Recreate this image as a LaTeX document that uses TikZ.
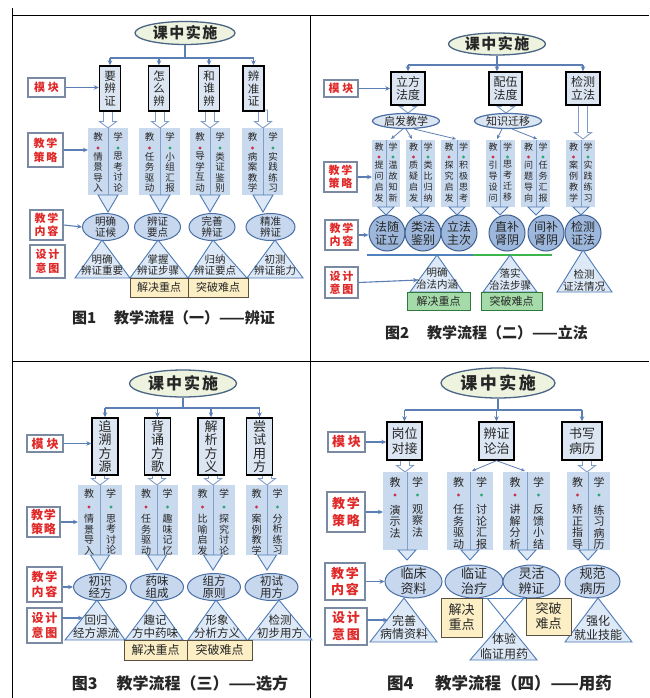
\documentclass[tikz,border=0pt]{standalone}
\usepackage{fontspec}
\setmainfont{Noto Sans CJK SC}
\usetikzlibrary{shapes.geometric,arrows.meta}
\definecolor{connc}{HTML}{5B7FB5}
\definecolor{boxblue}{HTML}{DCE6F2}
\definecolor{colblue}{HTML}{C9D9EE}
\definecolor{ellfill}{HTML}{C6D7EE}
\definecolor{elldraw}{HTML}{4A6FA5}
\definecolor{cirfill}{HTML}{9DB8DC}
\definecolor{cirdraw}{HTML}{3F5F8F}
\definecolor{trifill}{HTML}{DDE9F6}
\definecolor{tridraw}{HTML}{4F7BB5}
\definecolor{titfill}{HTML}{EEF3DF}
\definecolor{titdraw}{HTML}{4B6584}
\definecolor{lblc}{HTML}{7A8AA3}
\definecolor{lbltxt}{HTML}{E02828}
\definecolor{yelfill}{HTML}{FCEFC6}
\definecolor{yeldraw}{HTML}{5A5040}
\definecolor{grnfill}{HTML}{A4DBA8}
\definecolor{grndraw}{HTML}{2F7A3A}
\definecolor{dotred}{HTML}{C8304A}
\definecolor{dotgrn}{HTML}{2CA878}
\definecolor{divc}{HTML}{7F9FCF}
\definecolor{harrc}{HTML}{7F9CC8}
\definecolor{txt}{HTML}{262626}
\definecolor{lineblue}{HTML}{4F81BD}
\definecolor{linegreen}{HTML}{3CB54A}
\newcommand\fsz[2]{\fontsize{#1}{#2}\selectfont}
\newcommand\KZ[1]{课\hspace{#1}中\hspace{#1}实\hspace{#1}施}
\def\THW{10}\def\JY{9}\def\DY{20}\def\TY{25}
\newcommand\colpair[9]{%
  \fill[colblue] (#2,#5) rectangle (#4,#6);
  \draw[divline] (#3,#5) -- (#3,#6);
  \filldraw[tri] ({#3-\THW},#6) -- ({#3+\THW},#6) -- (#3,#7) -- cycle;
  \node[coltxt] (#1j) at ({(#2+#3)/2},{#5+\JY}) {教};
  \node[coltxt] (#1x) at ({(#3+#4)/2},{#5+\JY}) {学};
  \fill[dotred] ({(#2+#3)/2},{#5+\DY}) circle[radius=1.6];
  \fill[dotgrn] ({(#3+#4)/2},{#5+\DY}) circle[radius=1.6];
  \node[coltxt,anchor=north] (#1l) at ({(#2+#3)/2},{#5+\TY}) {#8};
  \node[coltxt,anchor=north] (#1r) at ({(#3+#4)/2},{#5+\TY}) {#9};
}
\newcommand\harr[3]{\filldraw[harrow] ({#1-4.5},#2) -- ({#1+4.5},#2) -- ({#1+4.5},{#3-6.5}) -- ({#1+8.5},{#3-6.5}) -- (#1,#3) -- ({#1-8.5},{#3-6.5}) -- ({#1-4.5},{#3-6.5}) -- cycle;}
\begin{document}
\begin{tikzpicture}[x=1pt,y=-1pt,
  conn/.style={draw=connc, line width=1.1pt},
  arr/.style={conn, -{Stealth[length=5pt,width=4.5pt]}},
  tarr/.style={draw=connc, line width=0.8pt, -{Stealth[length=4pt,width=3.5pt]}},
  modbox/.style={draw=black, line width=1.4pt, fill=boxblue, inner sep=0pt, align=center, text=txt},
  lbl/.style={draw=lblc, line width=1.6pt, fill=white, inner sep=0pt, align=center, text=lbltxt},
  titell/.style={ellipse, draw=titdraw, line width=1.3pt, fill=titfill, inner sep=0pt},
  titxt/.style={inner sep=0pt, text=txt, font=\bfseries},
  contell/.style={ellipse, draw=elldraw, line width=1pt, fill=ellfill, inner sep=0pt},
  smell/.style={ellipse, draw=elldraw, line width=1.2pt, fill=boxblue, inner sep=0pt},
  circ/.style={circle, draw=cirdraw, line width=1pt, fill=cirfill, inner sep=0pt},
  conttxt/.style={align=center, inner sep=0pt, text=txt},
  coltxt/.style={align=center, inner sep=0pt, text=txt},
  tri/.style={draw=tridraw, fill=trifill, line width=0.9pt},
  tritxt/.style={align=center, inner sep=0pt, text=txt},
  yel/.style={draw=yeldraw, line width=1pt, fill=yelfill, inner sep=0pt, align=center, text=txt},
  grn/.style={draw=grndraw, line width=1pt, fill=grnfill, inner sep=0pt, align=center, text=txt},
  harrow/.style={draw=harrc, fill=white, line width=0.9pt},
  divline/.style={draw=divc, line width=0.8pt},
  captxt/.style={inner sep=0pt, text=txt, font=\bfseries},
  gridline/.style={draw=black, line width=0.8pt}]
\useasboundingbox (0,0) rectangle (649,698);
\fill[white] (0,0) rectangle (649,698);
% grid
\draw[gridline] (12,8) -- (12,698);
\draw[gridline] (12,15) -- (649,15);
\draw[gridline] (310,15) -- (310,698);
\draw[gridline] (12,361) -- (649,361);

% ================= Quadrant 1 =================
\node[titell, minimum width=100, minimum height=23] (t1) at (185,33) {};
\node[titxt, font=\fsz{15}{16}\bfseries] (t1t) at (t1) {\KZ{1.5pt}};
\coordinate (bus1) at (185,58);
\draw[conn] (t1.south) -- (bus1);
\draw[conn] (110,58) -- (253.5,58);
\harr{108}{110}{128}\harr{160}{110}{128}\harr{210}{110}{128}\harr{263}{110}{128}
\node[modbox, minimum width=21, minimum height=45, font=\fsz{11.5}{12.5}] (b11) at (110,88.5) {要\\辨\\证};
\node[modbox, minimum width=21, minimum height=45, font=\fsz{11.5}{12.5}] (b12) at (159,88.5) {怎\\么\\辨};
\node[modbox, minimum width=21, minimum height=45, font=\fsz{11.5}{12.5}] (b13) at (209,88.5) {和\\谁\\辨};
\node[modbox, minimum width=21, minimum height=45, font=\fsz{11.5}{12.5}] (b14) at (253.5,88.5) {辨\\准\\证};
\foreach \b in {b11,b12,b13,b14} \draw[arr] (bus1 -| \b) -- (\b.north);
\def\THW{10}\def\JY{9}\def\DY{20}\def\TY{24}
\tikzset{coltxt/.style={align=center, inner sep=0pt, text=txt, font=\fsz{9.5}{10.5}}}
\colpair{p11}{88}{108}{128}{128}{195}{212}{情\\景\\导\\入}{思\\考\\讨\\论}
\colpair{p12}{139}{160}{180}{128}{195}{212}{任\\务\\驱\\动}{小\\组\\汇\\报}
\colpair{p13}{190}{210}{230}{128}{195}{212}{导\\学\\互\\动}{类\\证\\鉴\\别}
\colpair{p14}{242}{263}{283}{128}{195}{212}{病\\案\\教\\学}{实\\践\\练\\习}
\filldraw[tri] (75,278) -- (130,278) -- (102,240) -- cycle;
\filldraw[tri] (130,278) -- (188,278) -- (158,240) -- cycle;
\filldraw[tri] (188,278) -- (247,278) -- (213,240) -- cycle;
\filldraw[tri] (247,278) -- (303,278) -- (275,240) -- cycle;
\node[tritxt, font=\fsz{10.5}{11.5}] (d11) at (102,265) {明确\\辨证重要};
\node[tritxt, font=\fsz{10.5}{11.5}] (d12) at (158,265) {掌握\\辨证步骤};
\node[tritxt, font=\fsz{10.5}{11.5}] (d13) at (215,265) {归纳\\辨证要点};
\node[tritxt, font=\fsz{10.5}{11.5}] (d14) at (275,265) {初测\\辨证能力};
\node[contell, minimum width=46, minimum height=27] (c11) at (105.5,227) {};
\node[contell, minimum width=46, minimum height=27] (c12) at (157.5,227) {};
\node[contell, minimum width=46, minimum height=27] (c13) at (212,227) {};
\node[contell, minimum width=49, minimum height=27] (c14) at (270.5,227) {};
\node[conttxt, font=\fsz{10.5}{11.5}] (c11t) at (c11) {明确\\证候};
\node[conttxt, font=\fsz{10.5}{11.5}] (c12t) at (c12) {辨证\\要点};
\node[conttxt, font=\fsz{10.5}{11.5}] (c13t) at (c13) {完善\\辨证};
\node[conttxt, font=\fsz{10.5}{11.5}] (c14t) at (c14) {精准\\辨证};
\node[yel, minimum width=58, minimum height=19, font=\fsz{11}{12}] (y11) at (159,287.5) {解决重点};
\node[yel, minimum width=60, minimum height=19, font=\fsz{11}{12}] (y12) at (218,287.5) {突破难点};
\node[lbl, minimum width=37, minimum height=19, font=\fsz{11}{13}\bfseries] (l11) at (46.5,87.5) {模\hspace{3pt}块};
\node[lbl, minimum width=35, minimum height=34, font=\fsz{11}{14}\bfseries] (l12) at (45.5,150) {教\hspace{2pt}学\\策\hspace{2pt}略};
\node[lbl, minimum width=33, minimum height=30, font=\fsz{11}{13}\bfseries] (l13) at (46.5,225) {教\hspace{2pt}学\\内\hspace{2pt}容};
\node[lbl, minimum width=35, minimum height=33, font=\fsz{11}{14}\bfseries] (l14) at (47.5,261.5) {设\hspace{2pt}计\\意\hspace{2pt}图};
\draw[arr] (l11.east) -- (l11.east -| b11.west);
\draw[arr] (l12.east) -- (88,150);
\draw[arr] (l13.east) -- (c11.west);
\node[captxt, font=\fsz{15}{16}\bfseries] (cap1) at (173.5,318) {图1\hspace{1.2em}教学流程（一）——辨证};

% ================= Quadrant 2 =================
\node[titell, minimum width=97, minimum height=22] (t2) at (497,44) {};
\node[titxt, font=\fsz{15}{16}\bfseries] (t2t) at (t2) {\KZ{1.5pt}};
\coordinate (bus2) at (497,65);
\draw[conn] (t2.south) -- (bus2);
\draw[conn] (408,65) -- (583,65);
\harr{408}{104}{113}\harr{506}{104}{113}\harr{583}{104}{139}
\node[modbox, minimum width=34, minimum height=33, font=\fsz{12}{13}] (b21) at (408,88.5) {立方\\法度};
\node[modbox, minimum width=33, minimum height=33, font=\fsz{12}{13}] (b22) at (505.5,88.5) {配伍\\法度};
\node[modbox, minimum width=34, minimum height=33, font=\fsz{12}{13}] (b23) at (583,88.5) {检测\\立法};
\draw[arr] (bus2 -| b21) -- (b21.north);
\draw[arr] (bus2) -- (bus2 |- b22.north);
\draw[arr] (bus2 -| b23) -- (b23.north);
\node[smell, minimum width=67, minimum height=15] (e21) at (406,121) {};
\node[smell, minimum width=67, minimum height=15] (e22) at (508,121) {};
\node[conttxt, font=\fsz{11}{12}] (e21t) at (e21) {启发教学};
\node[conttxt, font=\fsz{11}{12}] (e22t) at (e22) {知识迁移};
\draw[tarr] (403,129) -- (391,139);
\draw[tarr] (406,129) -- (412,139);
\draw[tarr] (414,129) -- (456,139);
\draw[tarr] (502,129) -- (497,139);
\draw[tarr] (512,129) -- (537,139);
\def\THW{8}\def\JY{7}\def\DY{17}\def\TY{20.5}
\tikzset{coltxt/.style={align=center, inner sep=0pt, text=txt, font=\fsz{9}{11}}}
\colpair{p21}{372}{386}{400}{140}{207}{215}{提\\问\\启\\发}{温\\故\\知\\新}
\colpair{p22}{406}{421}{435}{140}{207}{215}{质\\疑\\启\\发}{类\\比\\归\\纳}
\colpair{p23}{441}{457}{470}{140}{207}{215}{探\\究\\启\\发}{积\\极\\思\\考}
\colpair{p24}{486}{500}{515}{140}{207}{215}{引\\导\\设\\问}{思\\考\\迁\\移}
\colpair{p25}{521}{536}{550}{140}{207}{215}{问\\题\\导\\向}{任\\务\\汇\\报}
\colpair{p26}{566}{581}{595}{140}{207}{215}{案\\例\\教\\学}{实\\践\\练\\习}
\node[circ, minimum size=36] (k21) at (387,233) {};
\node[circ, minimum size=36] (k22) at (423,233) {};
\node[circ, minimum size=36] (k23) at (459,233) {};
\node[circ, minimum size=36] (k24) at (507,233) {};
\node[circ, minimum size=36] (k25) at (546,233) {};
\node[circ, minimum size=36] (k26) at (583,233) {};
\node[conttxt, font=\fsz{12}{13}] (k21t) at (k21) {法随\\证立};
\node[conttxt, font=\fsz{12}{13}] (k22t) at (k22) {类法\\鉴别};
\node[conttxt, font=\fsz{12}{13}] (k23t) at (k23) {立法\\主次};
\node[conttxt, font=\fsz{12}{13}] (k24t) at (k24) {直补\\肾阴};
\node[conttxt, font=\fsz{12}{13}] (k25t) at (k25) {间补\\肾阴};
\node[conttxt, font=\fsz{12}{13}] (k26t) at (k26) {检测\\证法};
\draw[draw=lineblue, line width=1.5pt] (367,255) -- (478,255);
\draw[draw=linegreen, line width=1.5pt] (473,255) -- (552,255);
\filldraw[tri] (410,292) -- (463,292) -- (437,255) -- cycle;
\filldraw[tri] (483,292) -- (537,292) -- (510,255) -- cycle;
\filldraw[tri] (557,292) -- (612,292) -- (583,250) -- cycle;
\node[tritxt, font=\fsz{10.5}{12}] (d21) at (437,279) {明确\\治法内涵};
\node[tritxt, font=\fsz{10.5}{12}] (d22) at (510,279) {落实\\治法步骤};
\node[tritxt, font=\fsz{10.5}{12}] (d23) at (584,280) {检测\\证法情况};
\node[grn, minimum width=63, minimum height=18, font=\fsz{11}{12}] (g21) at (438.5,301) {解决重点};
\node[grn, minimum width=61, minimum height=18, font=\fsz{11}{12}] (g22) at (511.5,301) {突破难点};
\node[lbl, minimum width=34, minimum height=17, font=\fsz{11}{13}\bfseries] (l21) at (341,88.5) {模\hspace{3pt}块};
\node[lbl, minimum width=33, minimum height=30, font=\fsz{11}{13}\bfseries] (l22) at (340.5,177) {教\hspace{2pt}学\\策\hspace{2pt}略};
\node[lbl, minimum width=33, minimum height=30, font=\fsz{11}{13}\bfseries] (l23) at (341.5,235) {教\hspace{2pt}学\\内\hspace{2pt}容};
\node[lbl, minimum width=33, minimum height=31, font=\fsz{11}{13}\bfseries] (l24) at (341.5,282.5) {设\hspace{2pt}计\\意\hspace{2pt}图};
\draw[arr] (l21.east) -- (l21.east -| b21.west);
\draw[arr] (l22.east) -- (372,177);
\draw[arr] (l23.east) -- (l23.east -| k21.west);
\draw[arr] (l24.east) -- (418,280);
\node[captxt, font=\fsz{15}{16}\bfseries] (cap2) at (486.5,333) {图2\hspace{1.2em}教学流程（二）——立法};

% ================= Quadrant 3 =================
\node[titell, minimum width=107, minimum height=27] (t3) at (183,383.5) {};
\node[titxt, font=\fsz{16}{17}\bfseries] (t3t) at (t3) {\KZ{2pt}};
\coordinate (bus3) at (183,408);
\draw[conn] (t3.south) -- (bus3);
\draw[conn] (105,408) -- (259.5,408);
\harr{100}{474}{485}\harr{157}{474}{485}\harr{213}{474}{485}\harr{267}{474}{485}
\node[modbox, minimum width=26, minimum height=57, font=\fsz{13}{13.5}] (b31) at (105,446.5) {追\\溯\\方\\源};
\node[modbox, minimum width=26, minimum height=57, font=\fsz{13}{13.5}] (b32) at (157.5,446.5) {背\\诵\\方\\歌};
\node[modbox, minimum width=26, minimum height=57, font=\fsz{13}{13.5}] (b33) at (211,446.5) {解\\析\\方\\义};
\node[modbox, minimum width=26, minimum height=57, font=\fsz{13}{13.5}] (b34) at (259.5,446.5) {尝\\试\\用\\方};
\foreach \b in {b31,b32,b33,b34} \draw[arr] (bus3 -| \b) -- (\b.north);
\def\THW{9.5}\def\JY{9}\def\DY{22}\def\TY{29}
\tikzset{coltxt/.style={align=center, inner sep=0pt, text=txt, font=\fsz{10}{10.5}}}
\colpair{p31}{78}{100}{122}{485}{555}{570}{情\\景\\导\\入}{思\\考\\讨\\论}
\colpair{p32}{135}{157}{178}{485}{555}{570}{任\\务\\驱\\动}{趣\\味\\记\\忆}
\colpair{p33}{192}{213}{235}{485}{555}{570}{比\\喻\\启\\发}{探\\究\\讨\\论}
\colpair{p34}{246}{267}{288}{485}{555}{570}{案\\例\\教\\学}{分\\析\\练\\习}
\filldraw[tri] (65,640) -- (125,640) -- (97,600) -- cycle;
\filldraw[tri] (125,640) -- (183,640) -- (155,600) -- cycle;
\filldraw[tri] (188,640) -- (247,640) -- (216,600) -- cycle;
\filldraw[tri] (248,640) -- (312,640) -- (279,600) -- cycle;
\node[tritxt, font=\fsz{11.5}{13}] (d31) at (96,627) {回归\\经方源流};
\node[tritxt, font=\fsz{11.5}{13}] (d32) at (155,627) {趣记\\方中药味};
\node[tritxt, font=\fsz{11.5}{13}] (d33) at (217,627) {形象\\分析方义};
\node[tritxt, font=\fsz{11.5}{13}] (d34) at (280,627) {检测\\初步用方};
\node[contell, minimum width=53, minimum height=27] (c31) at (100,587) {};
\node[contell, minimum width=53, minimum height=27] (c32) at (157,587) {};
\node[contell, minimum width=53, minimum height=27] (c33) at (214,587) {};
\node[contell, minimum width=53, minimum height=27] (c34) at (271.5,587) {};
\node[conttxt, font=\fsz{11.5}{12.5}] (c31t) at (c31) {初识\\经方};
\node[conttxt, font=\fsz{11.5}{12.5}] (c32t) at (c32) {药味\\组成};
\node[conttxt, font=\fsz{11.5}{12.5}] (c33t) at (c33) {组方\\原则};
\node[conttxt, font=\fsz{11.5}{12.5}] (c34t) at (c34) {初试\\用方};
\node[yel, minimum width=63, minimum height=20, font=\fsz{12}{13}] (y31) at (155.5,650) {解决重点};
\node[yel, minimum width=65, minimum height=20, font=\fsz{12}{13}] (y32) at (219.5,650) {突破难点};
\node[lbl, minimum width=36, minimum height=17, font=\fsz{12}{13}\bfseries] (l31) at (45,443.5) {模\hspace{3pt}块};
\node[lbl, minimum width=33, minimum height=30, font=\fsz{12}{14}\bfseries] (l32) at (43.5,522) {教\hspace{1pt}学\\策\hspace{1pt}略};
\node[lbl, minimum width=35, minimum height=35, font=\fsz{12}{15}\bfseries] (l33) at (44.5,584.5) {教\hspace{2pt}学\\内\hspace{2pt}容};
\node[lbl, minimum width=35, minimum height=35, font=\fsz{12}{15}\bfseries] (l34) at (44.5,625.5) {设\hspace{2pt}计\\意\hspace{2pt}图};
\draw[arr] (l31.east) -- (l31.east -| b31.west);
\draw[arr] (l32.east) -- (78,522);
\draw[arr] (l33.east |- c31) -- (c31.west);
\draw[arr] (62,618) -- (83,618);
\node[captxt, font=\fsz{16}{17}\bfseries] (cap3) at (180,683) {图3\hspace{1.2em}教学流程（三）——选方};

% ================= Quadrant 4 =================
\node[titell, minimum width=114, minimum height=30] (t4) at (498,383) {};
\node[titxt, font=\fsz{17}{18}\bfseries] (t4t) at (t4) {\KZ{2.5pt}};
\coordinate (bus4) at (498,410);
\draw[conn] (t4.south) -- (bus4);
\draw[conn] (404.5,410) -- (582,410);
\harr{405}{459}{472}\harr{587}{459}{472}
\node[modbox, minimum width=35, minimum height=38, font=\fsz{13}{15}] (b41) at (404.5,441) {岗位\\对接};
\node[modbox, minimum width=35, minimum height=38, font=\fsz{13}{15}] (b42) at (496.5,441) {辨证\\论治};
\node[modbox, minimum width=40, minimum height=38, font=\fsz{13}{15}] (b43) at (582,441) {书写\\病历};
\foreach \b in {b41,b42,b43} \draw[arr] (bus4 -| \b) -- (\b.north);
\draw[tarr] (b42.south) -- (472,471);
\draw[tarr] (b42.south) -- (525,471);
\def\THW{9}\def\JY{10}\def\DY{23}\def\TY{32.5}
\tikzset{coltxt/.style={align=center, inner sep=0pt, text=txt, font=\fsz{11}{11.5}}}
\colpair{p41}{383}{407}{428}{472}{550}{560}{演\\示\\法}{观\\察\\法}
\colpair{p42}{447}{470}{493}{472}{550}{560}{任\\务\\驱\\动}{讨\\论\\汇\\报}
\colpair{p43}{503}{527}{550}{472}{550}{560}{讲\\解\\分\\析}{反\\馈\\小\\结}
\colpair{p44}{567}{588}{610}{472}{550}{560}{矫\\正\\指\\导}{练\\习\\病\\历}
\filldraw[tri] (370,642) -- (437,642) -- (404,598) -- cycle;
\filldraw[tri] (565,642) -- (632,642) -- (598,598) -- cycle;
\filldraw[tri] (504.8,620) -- (537,660) -- (470,660) -- cycle;
\draw[draw=tridraw, line width=0.9pt] (487,598) -- (504.8,620) (524,598) -- (504.8,620);
\draw[draw=tridraw, line width=0.9pt] (482,598) -- (526,598);
\node[tritxt, font=\fsz{12}{13}] (d41) at (404,627) {完善\\病情资料};
\node[tritxt, font=\fsz{12}{13.5}] (d42) at (598,628) {强化\\就业技能};
\node[tritxt, font=\fsz{12}{15}] (d43) at (504,646) {体验\\临证用药};
\node[contell, minimum width=57, minimum height=33] (c41) at (413.5,581.5) {};
\node[contell, minimum width=58, minimum height=33] (c42) at (474,581.5) {};
\node[contell, minimum width=57, minimum height=33] (c43) at (531.5,581.5) {};
\node[contell, minimum width=55, minimum height=33] (c44) at (592.5,581.5) {};
\node[conttxt, font=\fsz{13}{15}] (c41t) at (c41) {临床\\资料};
\node[conttxt, font=\fsz{13}{15}] (c42t) at (c42) {临证\\治疗};
\node[conttxt, font=\fsz{13}{15}] (c43t) at (c43) {灵活\\辨证};
\node[conttxt, font=\fsz{13}{15}] (c44t) at (c44) {规范\\病历};
\node[yel, minimum width=41, minimum height=39, font=\fsz{13}{15}] (y41) at (461.5,617.5) {解决\\重点};
\node[yel, minimum width=45, minimum height=37, font=\fsz{13}{15}] (y42) at (548.5,616.5) {突破\\难点};
\node[lbl, minimum width=37, minimum height=20, font=\fsz{13}{15}\bfseries] (l41) at (346.5,442) {模\hspace{3pt}块};
\node[lbl, minimum width=38, minimum height=40, font=\fsz{13}{17}\bfseries] (l42) at (346,512) {教\hspace{2pt}学\\策\hspace{2pt}略};
\node[lbl, minimum width=40, minimum height=37, font=\fsz{13}{17}\bfseries] (l43) at (345,581.5) {教\hspace{2pt}学\\内\hspace{2pt}容};
\node[lbl, minimum width=42, minimum height=37, font=\fsz{13}{17}\bfseries] (l44) at (346,626.5) {设\hspace{2pt}计\\意\hspace{2pt}图};
\draw[arr] (l41.east) -- (l41.east -| b41.west);
\draw[arr] (l42.east) -- (383,512);
\draw[arr] (l43.east) -- (c41.west);
\draw[arr] (367,620) -- (388,620);
\node[captxt, font=\fsz{16.5}{17.5}\bfseries] (cap4) at (499.5,683) {图4\hspace{1.3em}教学流程（四）——用药};
\end{tikzpicture}
\end{document}
